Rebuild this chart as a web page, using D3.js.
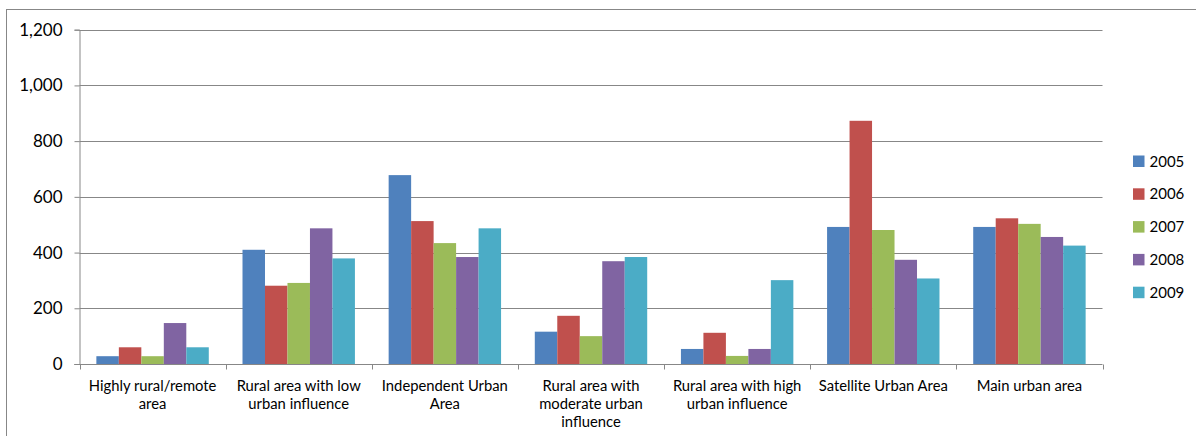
<!DOCTYPE html>
<html>
<head>
<meta charset="utf-8">
<script src="https://cdn.jsdelivr.net/npm/d3@7"></script>
<style>
  html, body { margin: 0; padding: 0; background: #fff; }
  svg { display: block; font-family: Lato, "Open Sans", sans-serif; }
</style>
</head>
<body>
<svg id="chart" width="1196" height="436"></svg>
<script>
const categories = [
  "Highly rural/remote\narea",
  "Rural area with low\nurban influence",
  "Independent Urban\nArea",
  "Rural area with\nmoderate urban\ninfluence",
  "Rural area with high\nurban influence",
  "Satellite Urban Area",
  "Main urban area"
];
const years = ["2005", "2006", "2007", "2008", "2009"];
const s2005 = [28, 410, 678, 116, 54, 492, 492];
const s2006 = [60, 281, 513, 173, 112, 873, 523];
const s2007 = [28, 291, 434, 100, 29, 481, 503];
const s2008 = [147, 487, 384, 369, 54, 374, 456];
const s2009 = [60, 379, 487, 384, 301, 307, 425];
const yTicks = [0, 200, 400, 600, 800, 1000, 1200];
const colors = ["#4F81BD", "#C0504D", "#9BBB59", "#8064A2", "#4BACC6"];

const seriesValues = [s2005, s2006, s2007, s2008, s2009];

const svg = d3.select("#chart");
const gridColor = "#878787";

// outer chart border
svg.append("rect")
  .attr("x", 6.5).attr("y", 9.5)
  .attr("width", 1300).attr("height", 500)
  .attr("fill", "none").attr("stroke", gridColor).attr("stroke-width", 1);

const plotL = 79.5, plotR = 1102.5, plotT = 29.7, plotB = 364;

const x0 = d3.scaleBand().domain(d3.range(categories.length)).range([plotL, plotR]).padding(0);
const step = x0.bandwidth();
const gapHalf = step * (1.5 / 6.5) / 2;
const x1 = d3.scaleBand().domain(d3.range(years.length)).range([gapHalf, step - gapHalf]).padding(0);
const y = d3.scaleLinear().domain([0, 1200]).range([plotB, plotT]);

// gridlines
svg.append("g").selectAll("line").data(yTicks.filter(t => t > 0)).join("line")
  .attr("x1", plotL).attr("x2", plotR)
  .attr("y1", d => Math.round(y(d)) + 0.5).attr("y2", d => Math.round(y(d)) + 0.5)
  .attr("stroke", gridColor).attr("stroke-width", 1);

// bars
const groups = svg.append("g").selectAll("g").data(categories.map((c, i) => i)).join("g")
  .attr("transform", i => `translate(${x0(i)},0)`);
groups.selectAll("rect").data(i => seriesValues.map((s, k) => ({k, v: s[i]}))).join("rect")
  .attr("x", d => x1(d.k))
  .attr("y", d => y(d.v))
  .attr("width", x1.bandwidth())
  .attr("height", d => y(0) - y(d.v))
  .attr("fill", d => colors[d.k]);

// y axis
const yAxis = d3.axisLeft(y).tickValues(yTicks).tickSize(5).tickPadding(12)
  .tickFormat(d3.format(","));
const gy = svg.append("g").attr("transform", `translate(${plotL},0)`).call(yAxis);
gy.select(".domain").attr("stroke", gridColor);
gy.selectAll(".tick line").attr("stroke", gridColor);
gy.selectAll(".tick text").attr("fill", "#000").attr("font-size", 17)
  .attr("font-family", "Lato, 'Open Sans', sans-serif");

// x axis
const xTickScale = d3.scaleLinear().domain([0, categories.length]).range([plotL, plotR]);
const gx = svg.append("g").attr("transform", `translate(0,${Math.round(plotB) + 0.5})`);
gx.append("line").attr("x1", plotL - 5).attr("x2", plotR).attr("stroke", gridColor);
gx.selectAll("line.t").data(d3.range(categories.length + 1)).join("line").attr("class", "t")
  .attr("x1", d => Math.round(xTickScale(d)) + 0.5).attr("x2", d => Math.round(xTickScale(d)) + 0.5)
  .attr("y1", 0).attr("y2", 5).attr("stroke", gridColor);

const labels = svg.append("g").selectAll("text").data(categories).join("text")
  .attr("x", (d, i) => x0(i) + step / 2)
  .attr("y", 390.5)
  .attr("text-anchor", "middle")
  .attr("font-size", 14.8)
  .attr("fill", "#000");
labels.each(function(d) {
  const t = d3.select(this);
  d.split("\n").forEach((line, j) => {
    t.append("tspan").attr("x", t.attr("x")).attr("dy", j === 0 ? 0 : 18).text(line);
  });
});

// legend
const legend = svg.append("g").selectAll("g").data(years).join("g")
  .attr("transform", (d, i) => `translate(1133,${161 + i * 32.8})`);
legend.append("rect").attr("x", 0).attr("y", -5.5).attr("width", 11.5).attr("height", 11.5)
  .attr("fill", (d, i) => colors[i]);
legend.append("text").attr("x", 16.5).attr("y", 5.5).attr("font-size", 15).attr("fill", "#000")
  .text(d => d);
</script>
</body>
</html>
